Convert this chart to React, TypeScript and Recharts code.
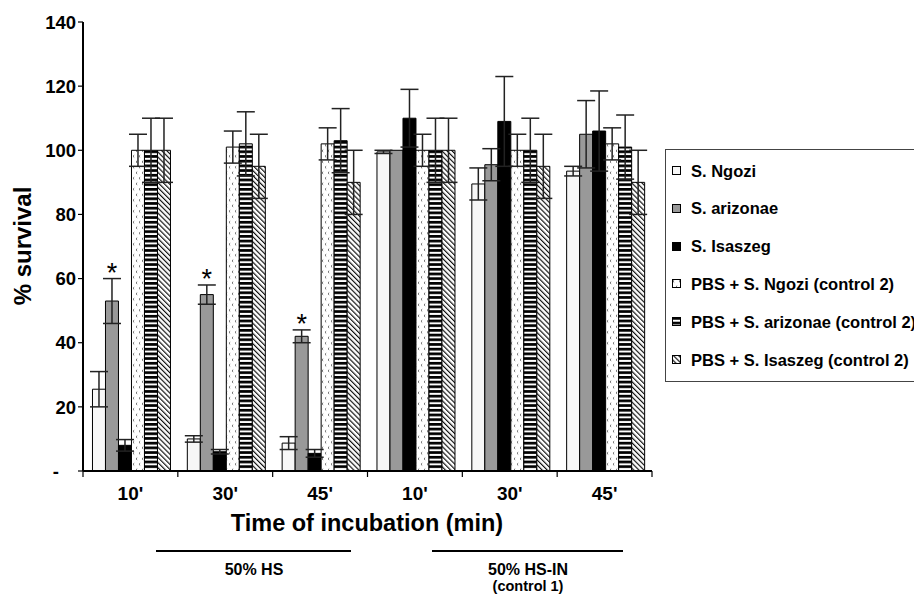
import { Bar, BarChart, ErrorBar, LabelList, XAxis, YAxis } from "recharts";

const times = ["10'", "30'", "45'", "10'", "30'", "45'"];

const ngozi = [25.5, 10, 8.7, 99.5, 89.5, 93.5];
const ngoziErr = [5.5, 1, 2, 0.5, 5, 1.5];
const arizonae = [53, 55, 42, 100, 95.5, 105];
const arizonaeErr = [7, 3, 2, 0, 5, 10.5];
const isaszeg = [8, 6, 5.5, 110, 109, 106];
const isaszegErr = [1.8, 0.7, 1.2, 9, 14, 12.5];
const pbsNgozi = [100, 101, 102, 100, 100, 102];
const pbsNgoziErr = [5, 5, 5, 5, 5, 5];
const pbsArizonae = [100, 102, 103, 100, 100, 101];
const pbsArizonaeErr = [10, 10, 10, 10, 10, 10];
const pbsIsaszeg = [100, 95, 90, 100, 95, 90];
const pbsIsaszegErr = [10, 10, 10, 10, 10, 10];

// "*" marks over S. arizonae
const significant = [true, true, true, false, false, false];

const yTicks = [0, 20, 40, 60, 80, 100, 120, 140];

const data = times.map((time, i) => ({
  time,
  ngozi: ngozi[i],
  ngoziErr: ngoziErr[i],
  arizonae: arizonae[i],
  arizonaeErr: arizonaeErr[i],
  isaszeg: isaszeg[i],
  isaszegErr: isaszegErr[i],
  pbsNgozi: pbsNgozi[i],
  pbsNgoziErr: pbsNgoziErr[i],
  pbsArizonae: pbsArizonae[i],
  pbsArizonaeErr: pbsArizonaeErr[i],
  pbsIsaszeg: pbsIsaszeg[i],
  pbsIsaszegErr: pbsIsaszegErr[i],
}));

const series = [
  { key: "ngozi", name: "S. Ngozi", fill: "#f7f7f7" },
  { key: "arizonae", name: "S. arizonae", fill: "#999999" },
  { key: "isaszeg", name: "S. Isaszeg", fill: "#000000" },
  { key: "pbsNgozi", name: "PBS + S. Ngozi (control 2)", fill: "url(#pat-dots)" },
  { key: "pbsArizonae", name: "PBS + S. arizonae (control 2)", fill: "url(#pat-stripes)" },
  { key: "pbsIsaszeg", name: "PBS + S. Isaszeg (control 2)", fill: "url(#pat-hatch)" },
];

const W = 914;
const H = 598;
const PLOT_LEFT = 83;
const PLOT_RIGHT = 652;
const PLOT_TOP = 22;
const PLOT_BOTTOM = 471;
const HALF_BAND = (PLOT_RIGHT - PLOT_LEFT) / times.length / 2;

const FONT = "'Liberation Sans', Arial, sans-serif";

function YTick(props: any) {
  const { x, y, payload } = props;
  const zero = payload.value === 0;
  return (
    <text
      x={zero ? x - 17 : x}
      y={y}
      dy="0.36em"
      textAnchor="end"
      fontSize={18.5}
      fontWeight="bold"
      fontFamily={FONT}
      fill="#000"
    >
      {zero ? "-" : payload.value}
    </text>
  );
}

function XTick(props: any) {
  const { x, y, payload, index } = props;
  return (
    <g>
      <line x1={x - HALF_BAND} x2={x - HALF_BAND} y1={y} y2={y + 6} stroke="#000" strokeWidth={1.2} />
      {index === times.length - 1 && (
        <line x1={x + HALF_BAND} x2={x + HALF_BAND} y1={y} y2={y + 6} stroke="#000" strokeWidth={1.2} />
      )}
      <text
        x={x}
        y={y + 29}
        textAnchor="middle"
        fontSize={19}
        fontWeight="bold"
        fontFamily={FONT}
        fill="#000"
      >
        {payload.value}
      </text>
    </g>
  );
}

function Star(props: any) {
  const { x, y, width, height, value, index } = props;
  if (!significant[index]) return null;
  const perUnit = height / value;
  const top = y - arizonaeErr[index] * perUnit;
  return (
    <text x={x + width / 2} y={top + 3} textAnchor="middle" fontSize={27} fontFamily={FONT} fill="#000">
      *
    </text>
  );
}

function Patterns() {
  return (
    <defs>
      <pattern id="pat-dots" patternUnits="userSpaceOnUse" width={6} height={11}>
        <rect width={6} height={11} fill="#fff" />
        <path d="M2.2 1.2 L1 2.3 L2.2 3.4" stroke="#555" strokeWidth={0.9} fill="none" />
        <path d="M5.2 6.7 L4 7.8 L5.2 8.9" stroke="#555" strokeWidth={0.9} fill="none" />
      </pattern>
      <pattern id="pat-stripes" patternUnits="userSpaceOnUse" width={4} height={4.7}>
        <rect width={4} height={4.7} fill="#fff" />
        <rect width={4} height={2.7} fill="#000" />
      </pattern>
      <pattern
        id="pat-hatch"
        patternUnits="userSpaceOnUse"
        width={3.6}
        height={3.6}
        patternTransform="rotate(-45)"
      >
        <rect width={3.6} height={3.6} fill="#fff" />
        <line x1={0.6} x2={0.6} y1={0} y2={3.6} stroke="#000" strokeWidth={1.1} />
      </pattern>
    </defs>
  );
}

function Legend() {
  return (
    <div
      style={{
        position: "absolute",
        left: 665,
        top: 149,
        width: 270,
        height: 233,
        border: "1.5px solid #444",
        background: "#fff",
        boxSizing: "border-box",
      }}
    >
      {series.map((s, i) => (
        <div
          key={s.key}
          style={{
            position: "absolute",
            left: 6,
            top: 21 + i * 37.8 - 10,
            height: 20,
            display: "flex",
            alignItems: "center",
            whiteSpace: "nowrap",
            fontFamily: FONT,
            fontWeight: "bold",
            fontSize: 16.5,
            color: "#000",
          }}
        >
          <svg width={10} height={10} style={{ marginRight: 9 }}>
            <rect x={0.5} y={0.5} width={8} height={8} fill={s.fill} stroke="#000" strokeWidth={1} />
          </svg>
          {s.name}
        </div>
      ))}
    </div>
  );
}

export default function App() {
  return (
    <div
      style={{
        position: "absolute",
        left: 0,
        top: 0,
        width: W,
        height: H,
        overflow: "hidden",
        background: "#fff",
      }}
    >
      <BarChart
        width={W}
        height={H}
        data={data}
        margin={{ top: PLOT_TOP, right: W - PLOT_RIGHT, left: 0, bottom: H - PLOT_BOTTOM - 30 }}
        barCategoryGap="10%"
        barGap={0}
      >
        <Patterns />
        <XAxis
          dataKey="time"
          height={30}
          interval={0}
          tickSize={0}
          tickMargin={0}
          tickLine={false}
          axisLine={{ stroke: "#000", strokeWidth: 2 }}
          tick={<XTick />}
        />
        <XAxis
          xAxisId="top"
          dataKey="time"
          orientation="top"
          height={0}
          tick={false}
          tickLine={false}
          axisLine={{ stroke: "#000", strokeWidth: 2 }}
        />
        <YAxis
          width={PLOT_LEFT}
          domain={[0, 140]}
          ticks={yTicks}
          interval={0}
          tickSize={5}
          tickMargin={2}
          tickLine={{ stroke: "#000", strokeWidth: 1.2 }}
          axisLine={{ stroke: "#000", strokeWidth: 2 }}
          tick={<YTick />}
        />
        <YAxis
          yAxisId="right"
          orientation="right"
          width={0}
          domain={[0, 140]}
          tick={false}
          tickLine={false}
          axisLine={{ stroke: "#000", strokeWidth: 2 }}
        />
        {series.map((s) => (
          <Bar
            key={s.key}
            dataKey={s.key}
            name={s.name}
            fill={s.fill}
            stroke="#000"
            strokeWidth={1}
            isAnimationActive={false}
          >
            <ErrorBar dataKey={s.key + "Err"} width={9} stroke="#222" strokeWidth={1.5} />
            {s.key === "arizonae" && <LabelList dataKey="arizonae" content={<Star />} />}
          </Bar>
        ))}
      </BarChart>

      <svg width={W} height={H} style={{ position: "absolute", left: 0, top: 0, pointerEvents: "none" }}>
        <text
          transform="translate(22,246) rotate(-90)"
          textAnchor="middle"
          dominantBaseline="central"
          fontSize={24}
          fontWeight="bold"
          fontFamily={FONT}
          fill="#000"
        >
          % survival
        </text>
        <text x={367} y={531} textAnchor="middle" fontSize={23.5} fontWeight="bold" fontFamily={FONT} fill="#000">
          Time of incubation (min)
        </text>
        <line x1={156} x2={351} y1={551} y2={551} stroke="#000" strokeWidth={2} />
        <line x1={432} x2={623} y1={551} y2={551} stroke="#000" strokeWidth={2} />
        <text x={254} y={575} textAnchor="middle" fontSize={16} fontWeight="bold" fontFamily={FONT} fill="#000">
          50% HS
        </text>
        <text x={528} y={575} textAnchor="middle" fontSize={16} fontWeight="bold" fontFamily={FONT} fill="#000">
          50% HS-IN
        </text>
        <text x={528} y={591} textAnchor="middle" fontSize={14.5} fontWeight="bold" fontFamily={FONT} fill="#000">
          (control 1)
        </text>
      </svg>

      <Legend />
    </div>
  );
}
